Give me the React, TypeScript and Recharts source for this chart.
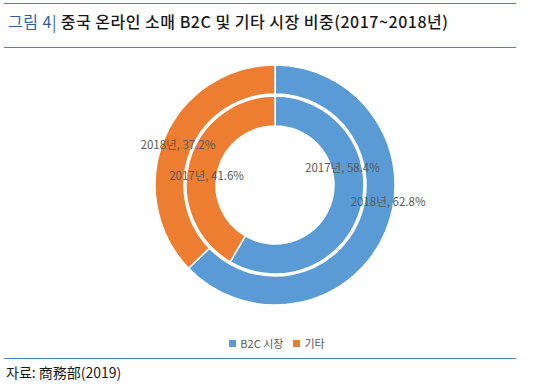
import React from 'react';
import { PieChart, Pie, Cell, Legend } from 'recharts';

const categories = ['B2C 시장', '기타'];
const share2017 = [58.4, 41.6];
const share2018 = [62.8, 37.2];
const colors = ['#5b9bd5', '#ed7d31'];

// Excel had the B2C labels dragged a bit off their slice centre
const shift2017 = [[-4, -37], [3, 9]];
const shift2018 = [[16, -25], [0, 0]];

const toRows = (vals: number[]) => categories.map((name, i) => ({ name, value: vals[i] }));

const RAD = Math.PI / 180;

const makeLabel = (year: string, shifts: number[][]) => (props: any) => {
  const { cx, cy, midAngle, innerRadius, outerRadius, index, value } = props;
  const r = (innerRadius + outerRadius) / 2;
  const x = cx + r * Math.cos(-midAngle * RAD) + shifts[index][0];
  const y = cy + r * Math.sin(-midAngle * RAD) + shifts[index][1];
  return (
    <text x={x} y={y} fill="#595959" fontSize={11.5} textAnchor="middle" dominantBaseline="central">
      {`${year}, ${value.toFixed(1)}%`}
    </text>
  );
};

const LegendBox = () => (
  <div style={{ display: 'flex', justifyContent: 'center', gap: 10, fontSize: 11, color: '#595959' }}>
    {categories.map((c, i) => (
      <span key={c} style={{ display: 'flex', alignItems: 'center', gap: 4 }}>
        <span style={{ width: 7, height: 7, background: colors[i], display: 'inline-block' }} />
        {c}
      </span>
    ))}
  </div>
);

export default function App() {
  const font = '"Noto Sans CJK KR", "Noto Sans", sans-serif';
  return (
    <div style={{ position: 'absolute', left: 0, top: 0, width: 554, height: 392, background: '#fff', fontFamily: font }}>
      <div style={{ position: 'absolute', left: 4, top: 3, width: 512, borderTop: '1.5px solid #4f81bd' }} />
      <div style={{ position: 'absolute', left: 8, top: 9, fontSize: 16, fontWeight: 500, color: '#1a1a1a', whiteSpace: 'nowrap', lineHeight: '24px', letterSpacing: 0.5 }}>
        <span style={{ color: '#2f5fa8', fontWeight: 400 }}>그림 4| </span>
        중국 온라인 소매 B2C 및 기타 시장 비중(2017~2018년)
      </div>
      <div style={{ position: 'absolute', left: 4, top: 47, width: 512, borderTop: '1.5px solid #4f81bd' }} />

      <div style={{ position: 'absolute', left: 0, top: 0 }}>
        <PieChart width={554} height={392} margin={{ top: 0, right: 0, bottom: 0, left: 0 }}>
          <Pie
            data={toRows(share2017)}
            dataKey="value"
            cx={275}
            cy={185}
            innerRadius={59}
            outerRadius={89}
            startAngle={90}
            endAngle={-270}
            stroke="#fff"
            strokeWidth={1.5}
            label={makeLabel('2017년', shift2017)}
            labelLine={false}
            isAnimationActive={false}
          >
            {categories.map((c, i) => <Cell key={c} fill={colors[i]} />)}
          </Pie>
          <Pie
            data={toRows(share2018)}
            dataKey="value"
            cx={275}
            cy={185}
            innerRadius={91}
            outerRadius={120}
            startAngle={90}
            endAngle={-270}
            stroke="#fff"
            strokeWidth={1.5}
            label={makeLabel('2018년', shift2018)}
            labelLine={false}
            isAnimationActive={false}
          >
            {categories.map((c, i) => <Cell key={c} fill={colors[i]} />)}
          </Pie>
          <Legend content={LegendBox} wrapperStyle={{ top: 335, left: 0, width: 554 }} />
        </PieChart>
      </div>

      <div style={{ position: 'absolute', left: 4, top: 358, width: 512, borderTop: '1.5px solid #4f81bd' }} />
      <div style={{ position: 'absolute', left: 6, top: 362, fontSize: 14, color: '#1a1a1a', lineHeight: '20px' }}>
        자료: 商務部(2019)
      </div>
    </div>
  );
}
